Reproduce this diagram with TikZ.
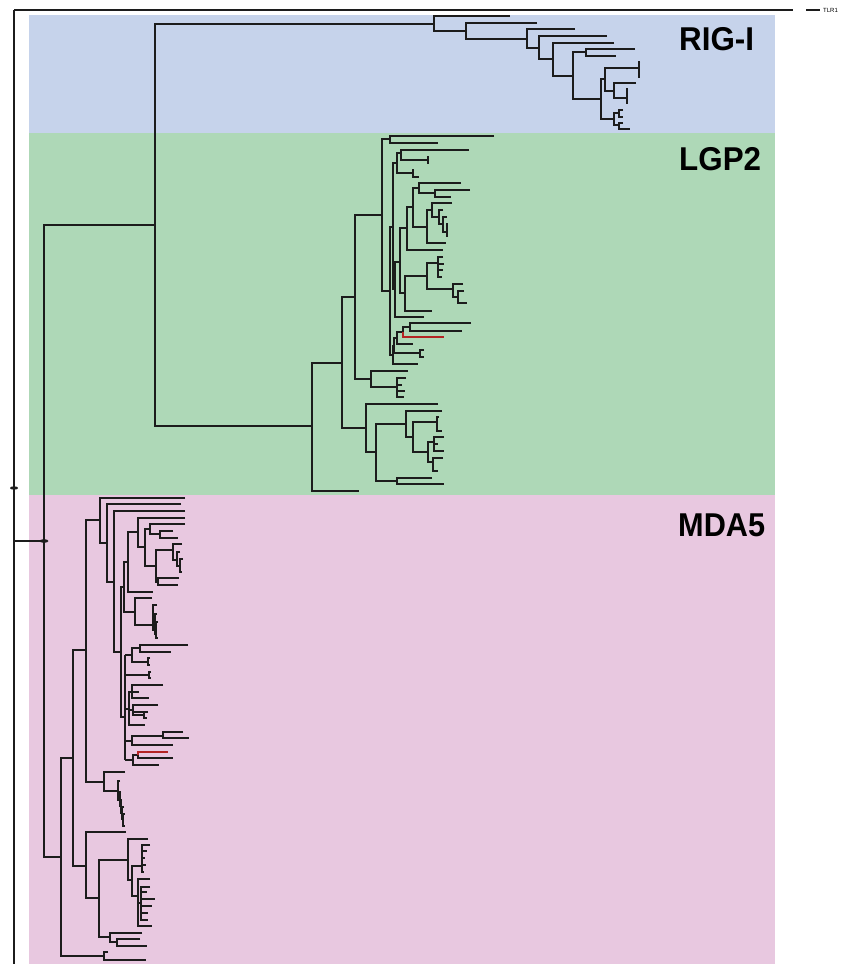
\documentclass[tikz,border=0pt]{standalone}
\usepackage{fontspec}
\setmainfont{Liberation Sans}
\definecolor{bgblue}{RGB}{198,211,235}
\definecolor{bggreen}{RGB}{174,216,183}
\definecolor{bgpink}{RGB}{232,200,224}
\definecolor{brc}{RGB}{28,28,28}
\definecolor{redc}{RGB}{180,36,36}
\tikzset{
  br/.style={draw=brc,line width=1.7pt,line join=miter},
  redbr/.style={draw=redc,line width=1.7pt,line join=miter},
  lab/.style={font=\fontsize{33}{33}\selectfont\bfseries,inner sep=0pt,anchor=west},
  small/.style={font=\fontsize{6}{6}\selectfont,inner sep=0pt,anchor=west}
}
\newcommand\tbk[5]{\draw[br] ({round(#3)},{round(#2)}) -- ({round(#1)},{round(#2)}) -- ({round(#1)},{round(#4)}) -- ({round(#5)},{round(#4)});}
\newcommand\tarm[3]{\draw[br] ({round(#1)},{round(#3)}) -- ({round(#2)},{round(#3)});}
\newcommand\tvl[3]{\draw[br] ({round(#1)},{round(#2)}) -- ({round(#1)},{round(#3)});}
\begin{document}
\begin{tikzpicture}[x=1pt,y=-1pt]
\useasboundingbox (0,0) rectangle (842,964);
\clip (0,0) rectangle (842,964);
\fill[white] (0,0) rectangle (842,964);
% backgrounds
\fill[bgblue] (29,15) rectangle (775,133);
\fill[bggreen] (29,133) rectangle (775,495);
\fill[bgpink] (29,495) rectangle (775,964);
% labels
\node[lab] (rigi) at (679,39) {\scalebox{0.95}[1]{RIG-I}};
\node[lab] (lgp2) at (679,159) {\scalebox{0.95}[1]{LGP2}};
\node[lab] (mda5) at (678,525) {\scalebox{0.93}[1]{MDA5}};
\node[small] (tlr) at (823,10.5) {TLR1};
% root
\tvl{14}{10}{975}
\tarm{14}{793}{10}
\tarm{806}{820}{10}
\tarm{14}{44}{541}
\tbk{44}{225}{155}{857}{61}
\fill[brc] (14,488) ellipse (4 and 1.7);
\fill[brc] (44,541) ellipse (4.5 and 1.8);
% A
\tbk{155}{24}{434}{426}{312}
% ---------------- RIG-I
\tbk{434}{15.7}{510}{30.7}{466}
\tbk{466}{22.7}{537}{38.7}{527}
\tbk{527}{29.3}{575}{47.7}{539}
\tbk{539}{36}{607}{59.3}{553}
\tbk{553}{42.7}{614}{76}{573}
\tbk{573}{52.3}{586}{99.3}{601}
\tbk{586}{49.3}{635}{56}{616}
\tbk{601}{79}{605}{119.3}{614}
\tbk{605}{68}{639}{90.7}{614}
\tbk{639}{62.3}{640}{76.7}{640}
\tbk{614}{82.7}{636}{98.3}{627}
\tbk{627}{89.3}{628}{103.3}{628}
\tbk{614}{113.3}{619}{125}{619}
\tbk{619}{110}{623}{116.7}{623}
\tbk{619}{122.7}{623}{129.3}{630}
% ---------------- LGP2
\tbk{312}{362.5}{341.5}{491}{359}
\tbk{341.5}{297}{354.5}{428}{366}
\tbk{354.5}{215}{382}{379}{370.7}
\tbk{382}{139.3}{390.3}{290.7}{390}
\tbk{390.3}{136}{494}{143.3}{438}
\tbk{390}{226.7}{393.3}{355}{392.7}
% G
\tbk{393.3}{163.3}{396.7}{289.3}{395.3}
\tbk{396.7}{153.3}{401}{173.3}{412.7}
\tbk{401}{150}{469}{160}{428}
\tvl{428}{156.2}{163.8}
\tbk{412.7}{170}{413.5}{176.7}{418.7}
% I
\tbk{395.3}{261.7}{400}{316.7}{424.3}
\tbk{400}{228.3}{407.3}{293.3}{405}
\tbk{407.3}{207.3}{413.3}{250}{443.3}
\tbk{413.3}{188.3}{419.3}{226.7}{427.3}
\tbk{419.3}{183.3}{460.7}{193.3}{435}
\tbk{435}{190}{470.3}{196.7}{451}
\tbk{427.3}{210}{431.7}{243.3}{445.7}
\tbk{431.7}{203.3}{451.7}{217.3}{439}
\tbk{439}{210}{442.7}{224}{442.7}
\tbk{442.7}{216.7}{446.7}{231.7}{446.7}
\tvl{446.7}{223.3}{236.7}
% L
\tbk{405}{275.7}{427.3}{310.7}{432.3}
\tbk{427.3}{262.7}{437.7}{289.3}{452.7}
\tbk{437.7}{256.7}{443}{276.7}{442}
\tarm{437.7}{444}{263.5}
\tarm{437.7}{443}{270}
\tbk{452.7}{284}{463.3}{296.7}{458.3}
\tbk{458.3}{290.7}{464}{303.3}{467.3}
% P (with red branch)
\tbk{392.7}{345.8}{394.3}{364}{417.7}
\tbk{394.3}{338.3}{396.7}{353.3}{420}
\tbk{396.7}{332}{402.7}{344}{413.3}
\draw[br] (410,327) -- (403,327) -- (403,332);
\draw[redbr] (403,332) -- (403,337) -- (444,337);
\tbk{410}{323.3}{470.7}{330.7}{461.7}
\tbk{420}{350}{424}{357.3}{424}
% U
\tbk{370.7}{370.7}{408.3}{387.3}{396.7}
\tbk{396.7}{378.3}{405.7}{397.3}{404}
\tarm{396.7}{401.7}{384.5}
\tarm{396.7}{405}{391}
% W
\tbk{366}{404}{437.7}{452.3}{375.7}
\tbk{375.7}{424}{405.7}{481}{397.3}
\tbk{397.3}{477.7}{432.3}{484.3}{444.3}
\tbk{405.7}{410.7}{442.3}{437.3}{413}
\tbk{413}{422.3}{436.7}{452.3}{427.7}
\tbk{436.7}{417.3}{439}{430.7}{441.7}
\tbk{427.7}{442.3}{434.3}{462.3}{432.7}
\tbk{434.3}{437.3}{444.3}{450.7}{444.3}
\tarm{434.3}{437.7}{444}
\tbk{432.7}{457.7}{442.7}{470.7}{438.3}
% ---------------- MDA5
\tbk{61}{758}{73.3}{956}{104.3}
\tbk{104.3}{952.3}{108}{960}{145.7}
\tbk{73.3}{650}{86}{865.7}{85.7}
\tbk{86}{520}{100}{781.7}{104.3}
% comb near 780-826
\tbk{104.3}{771.7}{125}{791}{118.3}
\tbk{118.3}{781}{120}{800}{119.5}
\tbk{119.5}{792}{121}{806}{120.7}
\tbk{120.7}{800}{122}{813}{122}
\tbk{122}{807}{123.5}{819}{123.3}
\tbk{123.3}{814}{124.5}{826}{124.5}
% upper MDA5
\tbk{100}{497.7}{185}{542.7}{107.3}
\tbk{107.3}{504.3}{180.7}{581.7}{114.3}
\tbk{114.3}{511}{185}{651.7}{120.7}
\tbk{120.7}{586.7}{124}{717.3}{125.3}
\tbk{124}{561.7}{128}{611.7}{135}
\tbk{128}{531.7}{137.7}{591.7}{152.7}
\tbk{137.7}{517.7}{185}{547.3}{145}
\tbk{145}{529.3}{150}{566}{156}
\tbk{150}{524.3}{185}{534.3}{160}
\tbk{160}{531}{172.7}{537.7}{178.3}
\tbk{156}{550}{173.3}{581.7}{158.3}
\tbk{173.3}{544}{181.7}{560}{176.7}
\tbk{176.7}{552}{180}{566}{179.5}
\tbk{179.5}{559}{183}{572}{182}
\tbk{158.3}{577.7}{179}{585}{178.3}
\tbk{135}{597.7}{151.7}{625}{153.3}
\tbk{153.3}{605}{157}{630}{154.7}
\tbk{154.7}{614}{156.5}{634}{156}
\tbk{156}{622}{158}{638}{157.5}
% N3
\tvl{125.3}{655}{760}
\tarm{125.3}{131.7}{655}
\tbk{131.7}{648.3}{140}{661.7}{148.3}
\tbk{140}{645}{187.7}{651.7}{170.7}
\tbk{148.3}{658.3}{149.5}{665}{149.5}
\tarm{125.3}{149.3}{675}
\tbk{149.3}{671.7}{150.5}{678.3}{150.5}
\tarm{125.3}{129.3}{708.5}
\tbk{129.3}{692}{132.3}{725}{145}
\tbk{132.3}{685}{163.3}{698.3}{149.3}
\tarm{132.3}{139.3}{691.7}
\tarm{129.3}{133.3}{710}
\tbk{133.3}{705}{158.3}{715}{145}
\tarm{133.3}{144.3}{711.7}
\tbk{144.3}{711.7}{148.3}{718.3}{147}
\tarm{125.3}{132}{740.5}
\tbk{132}{736}{163.3}{745}{172.7}
\tbk{163.3}{731.7}{183.3}{738.3}{189.3}
\tarm{125.3}{132.7}{760}
\tbk{132.7}{755}{138.3}{765}{159}
\draw[br] (138,755) -- (138,758) -- (173,758);
\draw[redbr] (138,755) -- (138,752) -- (168,752);
% lower MDA5
\tbk{85.7}{832.3}{126}{898.3}{98.7}
\tbk{98.7}{860}{128}{937.3}{110}
\tbk{110}{932.7}{141.7}{942.3}{116.7}
\tbk{116.7}{939.3}{140}{945.7}{146.7}
\tbk{128}{839}{148.3}{880}{132.3}
\tbk{132.3}{865.7}{142.3}{896}{137.7}
\tbk{142.3}{845}{150}{872.3}{144}
\tarm{142.3}{147}{851}
\tarm{142.3}{145}{858}
\tarm{142.3}{146}{865}
\tbk{137.7}{879}{150}{925.7}{152.3}
\tarm{137.7}{141}{903}
\tbk{141}{886.7}{150}{920}{148}
\tarm{141}{147}{892}
\tarm{141}{155}{899}
\tarm{141}{152}{906}
\tarm{141}{148}{913}
\end{tikzpicture}
\end{document}
